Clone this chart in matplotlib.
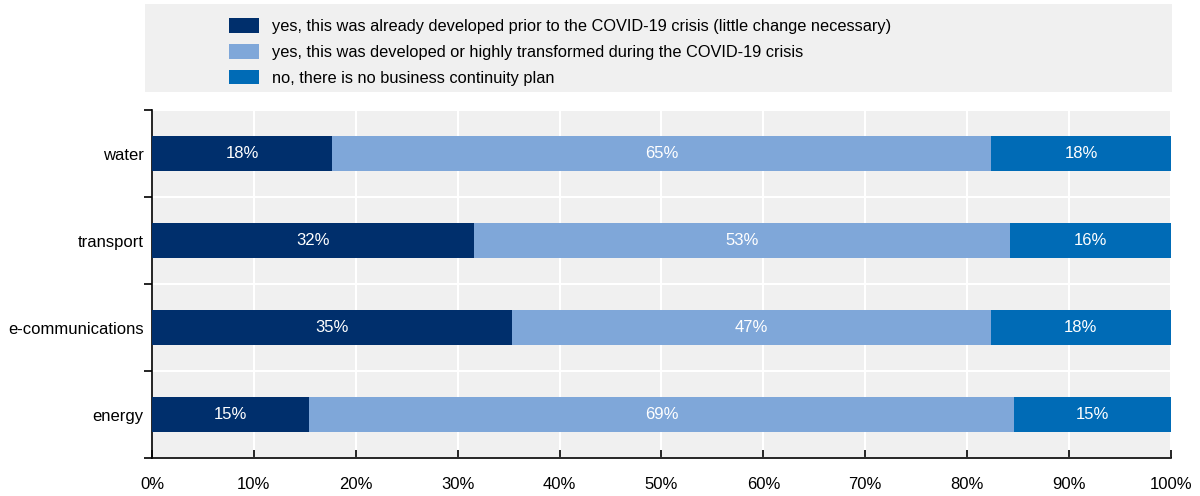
import matplotlib.pyplot as plt
from matplotlib.patches import Rectangle, Patch
import numpy as np

plt.rcParams['font.family'] = ['Liberation Sans Narrow', 'Liberation Sans', 'DejaVu Sans']

sectors = ["water", "transport", "e-communications", "energy"]
series_names = [
    "yes, this was already developed prior to the COVID-19 crisis (little change necessary)",
    "yes, this was developed or highly transformed during the COVID-19 crisis",
    "no, there is no business continuity plan",
]
# shares per sector, in percent
already = [17.65, 31.58, 35.29, 15.38]
transformed = [64.71, 52.63, 47.06, 69.23]
no_plan = [17.65, 15.79, 17.65, 15.38]
colors = ["#002F6C", "#7FA7D9", "#006BB6"]


def printplot():
    fig = plt.figure(figsize=(12, 4.96), dpi=100)
    ax = fig.add_axes([0.1267, 0.0766, 0.849, 0.7016])
    ax.set_facecolor("#F0F0F0")

    y = np.arange(len(sectors))[::-1]
    left = np.zeros(len(sectors))
    for vals, col in zip([already, transformed, no_plan], colors):
        vals = np.array(vals)
        ax.barh(y, vals, left=left, height=0.4, color=col, zorder=3)
        for yi, l, v in zip(y, left, vals):
            ax.text(l + v / 2, yi, f"{v:.0f}%", ha="center", va="center",
                    color="white", fontsize=12, zorder=4)
        left += vals

    ax.set_xlim(0, 100)
    ax.set_ylim(-0.5, len(sectors) - 0.5)
    ax.set_xticks(np.arange(0, 101, 10))
    ax.set_xticklabels([f"{t}%" for t in range(0, 101, 10)], fontsize=12)
    ax.set_yticks(y)
    ax.set_yticklabels(sectors, fontsize=12)
    ax.tick_params(axis="y", which="major", length=0, pad=6)
    ax.set_yticks(np.arange(-0.5, len(sectors), 1), minor=True)
    ax.tick_params(axis="y", which="minor", length=6, direction="out", width=1.2)
    ax.tick_params(axis="x", direction="in", length=6, width=1.2, pad=14)

    ax.grid(axis="x", color="white", linewidth=1.5, zorder=1)
    ax.grid(axis="y", which="minor", color="white", linewidth=1.5, zorder=1)
    for s in ["top", "right"]:
        ax.spines[s].set_visible(False)
    for s in ["left", "bottom"]:
        ax.spines[s].set_linewidth(1.2)

    # legend panel
    fig.patches.append(Rectangle((0.1208, 0.8145), 0.856, 0.1775,
                                 transform=fig.transFigure, facecolor="#F0F0F0",
                                 edgecolor="none", zorder=0))
    handles = [Patch(facecolor=c) for c in colors]
    fig.legend(handles, series_names, loc="upper left", bbox_to_anchor=(0.1838, 0.98),
               frameon=False, fontsize=11.8, handlelength=1.85, handleheight=1.0,
               handletextpad=0.8, labelspacing=0.6, borderpad=0)

    fig.savefig("out.png", dpi=100)


if __name__ == "__main__":
    printplot()
